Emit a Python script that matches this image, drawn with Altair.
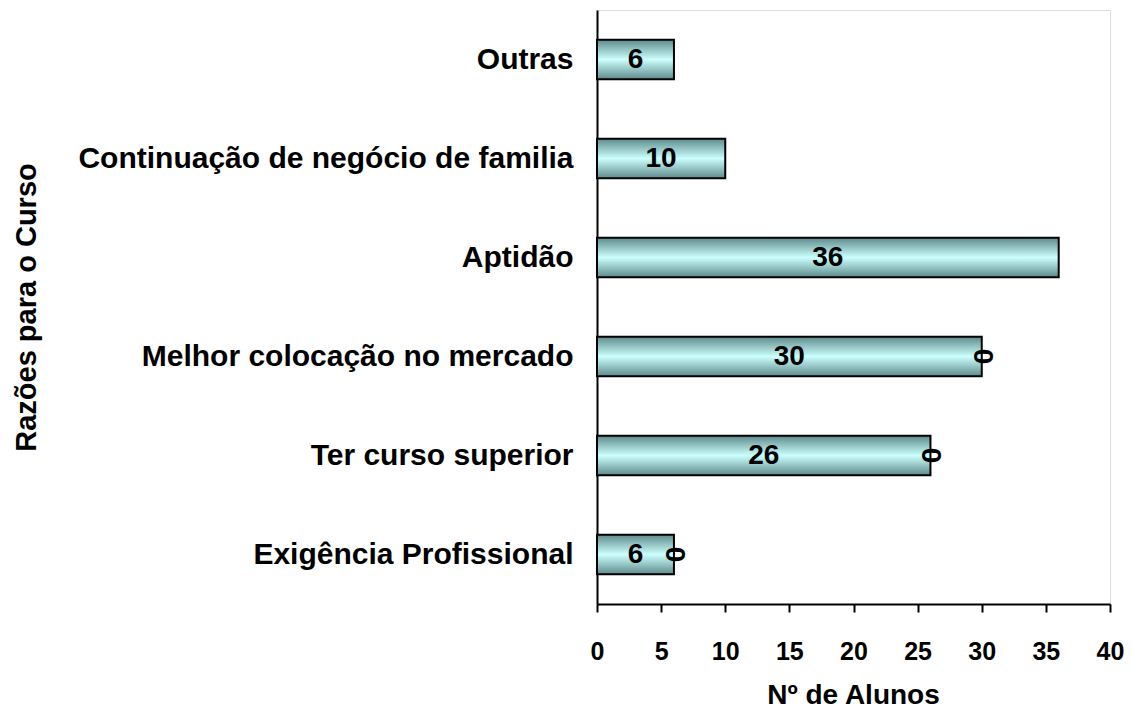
import altair as alt
import pandas as pd

categories = ["Outras", "Continuação de negócio de familia", "Aptidão",
              "Melhor colocação no mercado", "Ter curso superior", "Exigência Profissional"]
values = [6, 10, 36, 30, 26, 6]
second_series = [None, None, None, 0, 0, 0]
x_ticks = [0, 5, 10, 15, 20, 25, 30, 35, 40]

df = pd.DataFrame({"cat": categories, "val": values, "sec": second_series})
df["mid"] = df["val"] / 2
df["end"] = df["val"] + df["sec"].fillna(0)

FONT = "Liberation Sans"

grad = alt.Gradient(
    gradient="linear",
    stops=[alt.GradientStop(color="#5E8A8A", offset=0),
           alt.GradientStop(color="#CCFFFF", offset=0.5),
           alt.GradientStop(color="#5E8A8A", offset=1)],
    x1=0, x2=0, y1=0, y2=1,
)

y_enc = alt.Y("cat:N", sort=categories,
              scale=alt.Scale(paddingInner=0.6, paddingOuter=0.3),
              axis=alt.Axis(title="Razões para o Curso", ticks=False, tickSize=0,
                            labelPadding=24, labelFontSize=30, labelFont=FONT,
                            labelFontWeight="bold", labelColor="black", labelLimit=1000,
                            domainColor="black", domainWidth=2,
                            titleFontSize=29, titleFont=FONT, titleFontWeight="bold",
                            titleColor="black", titleX=-562, titleY=297,
                            titleAngle=-90, titleAlign="center", titleBaseline="alphabetic"))

x_scale = alt.Scale(domain=[0, 40], nice=False)

bars = alt.Chart(df).mark_bar(fill=grad, stroke="black", strokeWidth=2).encode(
    y=y_enc,
    x=alt.X("val:Q", scale=x_scale,
            axis=alt.Axis(title="Nº de Alunos", values=x_ticks, grid=False,
                          tickSize=8, tickWidth=2, tickColor="black",
                          domainColor="black", domainWidth=2, labelFlush=False,
                          labelPadding=27, labelFontSize=25, labelFont=FONT,
                          labelFontWeight="bold", labelColor="black",
                          titleFontSize=28, titleFont=FONT, titleFontWeight="bold",
                          titleColor="black", titleX=256, titleY=99,
                          titleAlign="center", titleBaseline="alphabetic")),
)

labels = alt.Chart(df).mark_text(font=FONT, fontSize=28, fontWeight="bold",
                                 color="black", align="center", baseline="middle").encode(
    y=alt.Y("cat:N", sort=categories),
    x=alt.X("mid:Q", scale=x_scale),
    text=alt.Text("val:Q"),
)

zeros = alt.Chart(df).transform_filter("datum.sec != null").mark_text(
    font=FONT, fontSize=28, fontWeight="bold", color="black",
    align="center", baseline="middle", angle=90).encode(
    y=alt.Y("cat:N", sort=categories),
    x=alt.X("end:Q", scale=x_scale),
    text=alt.Text("sec:Q"),
)

chart = (bars + labels + zeros).properties(
    width=513, height=594,
    autosize=alt.AutoSizeParams(type="none"),
    padding={"left": 589, "top": 2, "right": 15, "bottom": 105},
).configure_view(stroke=None).configure(background="white")

chart.save("out.html", embed_options={"renderer": "svg", "actions": False})
